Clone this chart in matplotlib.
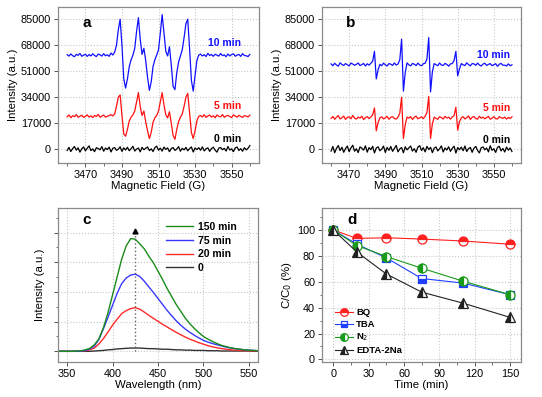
import numpy as np
import matplotlib
matplotlib.use("Agg")
import matplotlib.pyplot as plt
from matplotlib.ticker import MultipleLocator

plt.rcParams['font.family'] = ['Liberation Sans', 'DejaVu Sans']

# ---- EPR spectra (intensity in thousands, 1 G steps 3460..3560) ----
field = np.arange(3460, 3561, 1)

epr_a_10 = [61.8, 60.9, 62.3, 61.2, 60.5, 62.0, 61.4, 62.6, 60.8, 61.5,
            62.1, 60.7, 61.9, 61.0, 62.4, 61.3, 60.6, 62.2, 61.7, 60.9,
            62.5, 61.1, 61.8, 60.7, 62.9, 61.6,
            63.5, 68.0, 78.0, 85.0, 68.0, 46.0, 40.0, 46.0, 54.0, 58.5,
            61.5, 66.0, 77.0, 86.0, 72.0, 62.0, 66.0, 58.0, 47.0, 38.5,
            44.0, 54.0, 58.5, 61.5, 65.0, 76.0, 88.0, 76.0, 64.0, 61.0,
            67.0, 55.0, 41.0, 39.0, 50.0, 57.0, 61.0, 65.0, 73.0, 82.0,
            85.0, 66.0, 45.0, 38.0, 48.0, 58.0, 61.5,
            62.2, 61.0, 61.8, 60.6, 62.7, 61.3, 61.9, 60.8, 62.1, 61.5,
            60.9, 62.6, 61.2, 61.7, 60.5, 62.3, 61.0, 61.9, 62.4, 60.8,
            61.6, 62.0, 60.7, 62.5, 61.3, 61.1, 60.6, 62.0]
epr_a_5 = [21.2, 22.4, 20.6, 21.9, 21.3, 22.7, 20.9, 21.6, 22.2, 20.8,
           21.5, 22.5, 21.0, 21.8, 20.7, 22.1, 21.4, 22.8, 20.9, 21.7,
           22.3, 21.0, 21.6, 22.0, 22.6, 21.8,
           23.0, 28.0, 34.0, 35.5, 22.0, 10.0, 8.5, 13.0, 18.5, 21.0,
           22.5, 25.0, 31.0, 37.0, 28.0, 22.0, 25.0, 18.0, 12.0, 7.0,
           11.0, 17.5, 20.5, 22.0, 25.0, 31.0, 37.0, 29.0, 22.5, 20.5,
           24.5, 17.0, 9.0, 6.5, 13.0, 18.0, 21.0, 23.0, 28.0, 34.0,
           36.5, 24.0, 11.0, 7.0, 12.0, 18.5, 21.5,
           22.0, 21.1, 22.6, 20.8, 21.7, 22.3, 21.0, 21.9, 20.6, 22.4,
           21.5, 21.2, 22.7, 20.9, 21.8, 22.1, 21.3, 20.7, 22.5, 21.6,
           21.0, 22.2, 21.4, 20.8, 22.0, 21.7, 21.1, 22.3]
epr_a_0 = [-0.8, 1.2, -1.5, 0.4, 1.8, -0.6, 0.9, -1.9, 0.3, 1.5,
           -1.1, 0.7, 2.2, -0.9, 0.2, -1.6, 1.0, 0.5, -0.4, 1.7,
           -1.3, 0.8, -0.2, 1.4, -1.8, 0.6, 1.1, -0.7, 0.0, 1.6,
           -1.4, 0.9, -0.5, 1.3, -1.0, 0.4, 1.9, -1.2, 0.1, 0.8,
           -1.7, 1.2, -0.3, 0.6, 1.5, -0.9, 0.3, -1.5, 1.0, 2.0,
           -0.6, 0.7, -1.2, 1.4, -0.1, 0.9, -1.6, 0.5, 1.1, -0.8,
           0.2, 1.7, -1.3, 0.6, -0.4, 1.2, -1.0, 0.4, 1.5, -1.8,
           0.8, -0.2, 1.0, -0.7, 1.6, -1.1, 0.3, 0.9, -1.4, 0.5,
           1.3, -0.6, -1.9, 0.7, 1.1, -0.3, 0.6, -1.2, 1.8, -0.5,
           0.2, -1.6, 0.9, 1.4, -0.8, 0.4, -1.3, 1.0, -0.4, 0.6,
           2.4]

epr_b_10 = [55.8, 54.6, 56.2, 55.1, 54.3, 56.5, 55.4, 54.8, 56.0, 55.2,
            54.5, 56.3, 55.7, 54.9, 55.5, 56.4, 54.7, 55.3, 56.1, 54.4,
            55.9, 55.0, 56.2,
            57.5, 64.0, 46.0, 52.0, 55.5,
            54.6, 56.3, 55.2, 54.4, 56.0, 55.6, 54.8, 56.4, 55.1, 55.7,
            58.5, 72.0, 38.0, 50.0, 56.5,
            55.2, 54.5, 56.1, 55.6, 54.7, 56.3, 55.0, 54.6, 55.9, 56.2,
            59.0, 73.0, 37.5, 50.5, 56.0,
            55.3, 54.6, 56.4, 55.0, 54.8, 56.1, 55.5, 54.3, 55.8, 56.0,
            58.0, 64.0, 48.0, 52.5, 56.0,
            55.2, 54.7, 56.5, 55.4, 54.5, 56.0, 55.8, 54.9, 56.3, 55.1,
            54.4, 55.7, 56.2, 54.8, 55.5, 56.0, 54.6, 55.3, 55.9, 54.2,
            55.6, 56.1, 54.9, 55.0, 54.4, 55.8, 54.6, 55.2]
epr_b_5 = [20.2, 21.4, 19.6, 20.9, 22.0, 19.8, 20.6, 21.7, 19.5, 20.8,
           21.2, 19.9, 22.1, 20.4, 19.7, 21.0, 20.3, 21.6, 19.4, 20.7,
           21.3, 20.0, 21.1,
           22.5, 27.0, 12.0, 17.5, 20.5,
           21.2, 19.8, 20.6, 21.5, 19.6, 20.9, 21.3, 20.1, 19.7, 21.0,
           23.5, 34.0, 7.0, 16.0, 21.0,
           20.3, 21.4, 19.5, 20.8, 21.7, 19.9, 20.5, 21.2, 20.0, 21.6,
           24.0, 34.5, 7.0, 16.5, 21.0,
           20.2, 19.6, 21.3, 20.7, 19.8, 21.5, 20.4, 20.9, 19.7, 21.1,
           22.0, 27.5, 12.5, 18.0, 20.5,
           21.3, 19.8, 20.6, 21.8, 19.5, 20.9, 21.4, 20.1, 19.7, 21.6,
           20.3, 21.0, 19.9, 20.7, 21.5, 19.6, 20.4, 21.2, 20.0, 19.8,
           21.3, 20.6, 20.2, 21.0, 19.7, 20.8, 20.1, 21.2]
epr_b_0 = [-1.2, 1.8, -2.3, 0.6, 2.4, -0.9, 1.3, -2.0, 0.4, 2.1,
           -1.6, 0.9, 2.6, -1.3, 0.3, -2.2, 1.5, 0.7, -0.6, 2.2,
           -1.9, 1.1, -0.3, 1.9, -2.4, 0.8, 1.6, -1.0, 0.1, 2.0,
           -2.1, 1.2, -0.7, 1.8, -1.4, 0.5, 2.5, -1.7, 0.2, 1.1,
           -2.3, 1.6, -0.4, 0.9, 2.1, -1.2, 0.4, -2.0, 1.4, 2.3,
           -0.8, 1.0, -1.7, 1.9, -0.2, 1.2, -2.2, 0.7, 1.5, -1.1,
           0.3, 2.2, -1.8, 0.8, -0.5, 1.6, -1.4, 0.6, 2.0, -2.5,
           1.1, -0.3, 1.4, -1.0, 2.1, -1.5, 0.4, 1.2, -2.0, 0.7,
           1.8, -0.8, -2.4, 1.0, 1.5, -0.4, 0.8, -1.7, 2.3, -0.7,
           0.3, -2.1, 1.2, 1.9, -1.1, 0.5, -1.8, 1.4, -0.6, 0.8,
           -1.5]

# ---- PL spectra (5 nm steps 340..560) ----
wavelength = np.arange(340, 561, 5)
pl_150 = [0, 0, 0, 0, 0.01, 0.02, 0.05, 0.1, 0.22, 0.42, 0.8, 1.3, 1.9, 2.5,
          3.1, 3.55, 3.8, 3.78, 3.62, 3.45, 3.2, 2.98, 2.7, 2.42, 2.12, 1.85,
          1.58, 1.35, 1.12, 0.93, 0.77, 0.63, 0.5, 0.41, 0.33, 0.26, 0.2,
          0.16, 0.12, 0.09, 0.07, 0.05, 0.04, 0.03, 0.02]
pl_75 = [0, 0, 0, 0, 0, 0.01, 0.03, 0.08, 0.18, 0.4, 0.76, 1.15, 1.55, 1.95,
         2.28, 2.47, 2.57, 2.6, 2.52, 2.36, 2.17, 1.98, 1.78, 1.58, 1.38, 1.2,
         1.03, 0.88, 0.75, 0.64, 0.54, 0.45, 0.37, 0.31, 0.26, 0.22, 0.18,
         0.14, 0.11, 0.09, 0.07, 0.05, 0.04, 0.03, 0.02]
pl_20 = [0, 0, 0, 0, 0, 0.01, 0.02, 0.05, 0.11, 0.25, 0.43, 0.65, 0.88, 1.08,
         1.27, 1.37, 1.44, 1.47, 1.42, 1.32, 1.21, 1.11, 1.01, 0.91, 0.82,
         0.73, 0.64, 0.56, 0.48, 0.41, 0.35, 0.29, 0.24, 0.19, 0.15, 0.12,
         0.09, 0.07, 0.05, 0.04, 0.03, 0.02, 0.02, 0.01, 0.01]
pl_0 = [0, 0, 0, 0, 0, 0, 0, 0, 0.01, 0.02, 0.03, 0.05, 0.06, 0.08, 0.09,
        0.1, 0.11, 0.11, 0.11, 0.1, 0.09, 0.09, 0.08, 0.07, 0.07, 0.06, 0.05,
        0.05, 0.04, 0.04, 0.03, 0.03, 0.03, 0.02, 0.02, 0.02, 0.01, 0.01,
        0.01, 0.01, 0.01, 0.01, 0.01, 0, 0]
pl_peak = 425
pl_peak_top = 4.05

# ---- scavenger experiment ----
time_min = [0, 20, 45, 75, 110, 150]
bq = [100, 93.5, 94, 93, 91.5, 89]
tba = [100, 89, 78.5, 62.5, 59, 50]
n2 = [100, 88, 79.5, 70.5, 60.5, 50]
edta = [100, 83, 66, 52, 43.5, 32.5]

W, H = 542, 397
fig = plt.figure(figsize=(W / 100, H / 100), dpi=100)


def frame(ax):
    for s in ax.spines.values():
        s.set_color('#8a8a8a')
        s.set_linewidth(0.9)
    ax.tick_params(direction='out', length=3, width=0.7, color='#555555',
                   labelsize=7.8, pad=2)
    ax.tick_params(which='minor', direction='out', length=1.8, width=0.6,
                   color='#555555')
    ax.grid(True, color='#c8c8c8', linestyle=':', linewidth=0.8)
    ax.set_axisbelow(True)


def px_axes(l, r, t, b):
    return fig.add_axes([l / W, 1 - b / H, (r - l) / W, (b - t) / H])


# EPR panels
for l, r, letter, blue, red, black, lab_x, lab_y in [
        (58, 259, 'a', epr_a_10, epr_a_5, epr_a_0, 0.91, (0.77, 0.365, 0.155)),
        (322, 521, 'b', epr_b_10, epr_b_5, epr_b_0, 0.945, (0.69, 0.35, 0.148))]:
    ax = px_axes(l, r, 7, 163)
    frame(ax)
    ax.plot(field, np.array(black) * 1000, color='black', lw=0.9)
    ax.plot(field, np.array(red) * 1000, color='#ff1010', lw=0.9)
    ax.plot(field, np.array(blue) * 1000, color='#1010ff', lw=0.9)
    ax.set_xlim(3455, 3565)
    ax.set_ylim(-9000, 93000)
    ax.set_xticks([3470, 3490, 3510, 3530, 3550])
    ax.xaxis.set_minor_locator(MultipleLocator(10))
    ax.set_yticks([0, 17000, 34000, 51000, 68000, 85000])
    ax.set_xlabel('Magnetic Field (G)', fontsize=8.2, labelpad=1)
    ax.set_ylabel('Intensity (a.u.)', fontsize=8.2, labelpad=2)
    ax.text(0.12, 0.9, letter, transform=ax.transAxes, fontsize=11,
            fontweight='bold', ha='left', va='center')
    for txt, c, yy in zip(['10 min', '5 min', '0 min'],
                          ['#1010ff', '#ff1010', 'black'], lab_y):
        ax.text(lab_x, yy, txt, transform=ax.transAxes, color=c, fontsize=7.5,
                fontweight='bold', ha='right', va='center')

# PL panel
ax = px_axes(58, 258, 208, 362)
frame(ax)
ax.plot(wavelength, pl_0, color='#333333', lw=1.0, label='0')
ax.plot(wavelength, pl_20, color='#ff2a2a', lw=1.0, label='20 min')
ax.plot(wavelength, pl_75, color='#3838ff', lw=1.0, label='75 min')
ax.plot(wavelength, pl_150, color='#1a8c1a', lw=1.0, label='150 min')
ax.plot([pl_peak, pl_peak], [0, pl_peak_top], color='#666666', ls=':', lw=1.0)
ax.plot([pl_peak], [pl_peak_top], marker='^', color='black', ms=3.5)
ax.set_xlim(340, 560)
ax.set_ylim(-0.36, 4.83)
ax.set_xticks([350, 400, 450, 500, 550])
ax.set_yticks([0, 1, 2, 3, 4])
ax.yaxis.set_minor_locator(MultipleLocator(0.5))
ax.set_yticklabels([])
ax.set_xlabel('Wavelength (nm)', fontsize=8.2, labelpad=1)
ax.set_ylabel('Intensity (a.u.)', fontsize=8.2, labelpad=4)
ax.text(0.12, 0.92, 'c', transform=ax.transAxes, fontsize=11,
        fontweight='bold', ha='left', va='center')
h, lb = ax.get_legend_handles_labels()
ax.legend(h[::-1], lb[::-1], loc='upper right', bbox_to_anchor=(0.94, 0.97),
          frameon=False, prop={'weight': 'bold', 'size': 7.5},
          handlelength=2.6, handletextpad=0.5, labelspacing=0.35)

# scavenger panel
ax = px_axes(322, 521, 208, 362)
frame(ax)
ms = 6.5
ax.plot(time_min, bq, color='#ff2020', lw=0.8, marker='o', ms=ms,
        fillstyle='top', markerfacecoloralt='white', mew=0.9, label='BQ')
ax.plot(time_min, tba, color='#2040ff', lw=0.8, marker='s', ms=ms - 1,
        fillstyle='bottom', markerfacecoloralt='white', mew=0.9, label='TBA')
ax.plot(time_min, n2, color='#1a9a1a', lw=0.8, marker='o', ms=ms,
        fillstyle='left', markerfacecoloralt='white', mew=0.9,
        label='N$_2$')
ax.plot(time_min, edta, color='#222222', lw=0.8, marker='^', ms=ms,
        fillstyle='left', markerfacecoloralt='white', mew=0.9,
        label='EDTA-2Na')
ax.set_xlim(-9.6, 159.3)
ax.set_ylim(-2, 117)
ax.set_xticks([0, 30, 60, 90, 120, 150])
ax.xaxis.set_minor_locator(MultipleLocator(15))
ax.set_yticks([0, 20, 40, 60, 80, 100])
ax.yaxis.set_minor_locator(MultipleLocator(10))
ax.set_xlabel('Time (min)', fontsize=8.2, labelpad=1)
ax.set_ylabel('C/C$_0$ (%)', fontsize=8.2, labelpad=2)
ax.text(0.13, 0.92, 'd', transform=ax.transAxes, fontsize=11,
        fontweight='bold', ha='left', va='center')
ax.legend(loc='lower left', bbox_to_anchor=(0.03, 0.0), frameon=False,
          prop={'weight': 'bold', 'size': 6.8}, handlelength=1.9,
          handletextpad=0.4, labelspacing=0.32, borderpad=0.2,
          markerscale=0.85)

fig.savefig('out.png', dpi=100)
